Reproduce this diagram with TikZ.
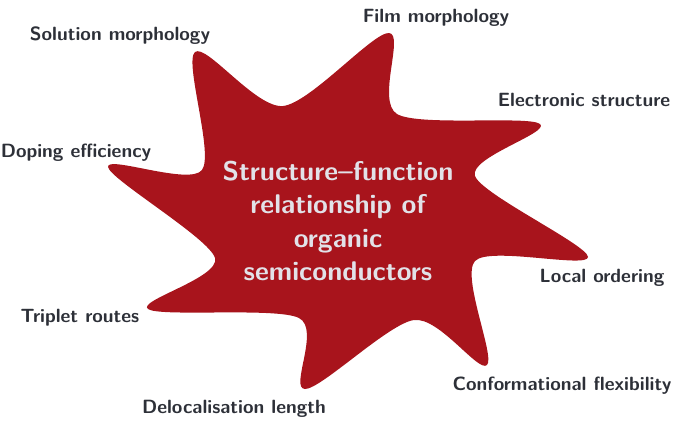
\documentclass[tikz,border=0pt]{standalone}
\usepackage{tikz}
\definecolor{starred}{RGB}{168,20,28}
\definecolor{labelgray}{RGB}{45,48,56}
\definecolor{centergray}{RGB}{226,226,232}
\begin{document}
\begin{tikzpicture}[x=0.6pt,y=-0.6pt,
  lbl/.style={font=\fontsize{11.5}{14}\bfseries\sffamily,text=labelgray,anchor=base,inner sep=0pt},
  center/.style={font=\fontsize{16.2}{20}\bfseries\sffamily,text=centergray,align=center,inner sep=0pt}]
\useasboundingbox (0,0) rectangle (674,421);
\fill[starred] plot[smooth cycle,tension=0.5] coordinates {
 (195,52) (283,106) (389,33) (397,114) (540,124) (475,176)
 (588,257) (475,261) (487,365) (414,320) (305,389) (299,318)
 (148,309) (215,258) (108,167) (202,170)};
\node[center] (c) at (338,221) {Structure--function\\relationship of\\organic\\semiconductors};
\node[lbl] (sol) at (120,40) {Solution morphology};
\node[lbl] (film) at (436,22) {Film morphology};
\node[lbl] (ele) at (584,106) {Electronic structure};
\node[lbl] (dop) at (76,157) {Doping efficiency};
\node[lbl] (loc) at (602,282) {Local ordering};
\node[lbl] (tri) at (80,322) {Triplet routes};
\node[lbl] (del) at (234,413) {Delocalisation length};
\node[lbl] (con) at (562,390) {Conformational flexibility};
\end{tikzpicture}
\end{document}
